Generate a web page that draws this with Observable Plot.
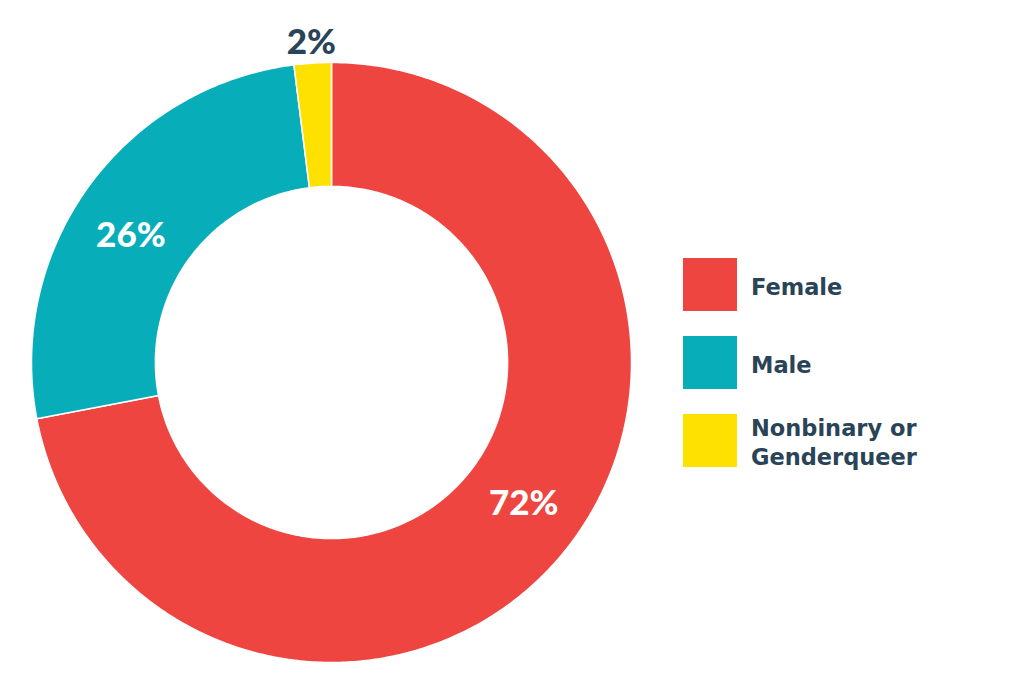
<!DOCTYPE html>
<html>
<head>
<meta charset="utf-8">
<script src="https://cdn.jsdelivr.net/npm/d3@7"></script>
<script src="https://cdn.jsdelivr.net/npm/@observablehq/plot@0.6"></script>
<style>
  html, body { margin: 0; padding: 0; background: #fff; }
  #wrap { position: relative; width: 1024px; height: 692px; }
  #legend { position: absolute; left: 683px; top: 258px; font-family: "DejaVu Sans", sans-serif; font-weight: bold; color: #2a4457; font-size: 22.5px; }
  .item { display: flex; align-items: center; height: 53px; margin-bottom: 25px; }
  .sw { width: 54px; height: 53px; flex: none; margin-right: 14px; }
  .lab { line-height: 29px; padding-top: 5px; }
</style>
</head>
<body>
<div id="wrap"><div id="chart"></div><div id="legend"></div></div>
<script>
const categories = ["Female", "Male", "Nonbinary or Genderqueer"];
const values = [72, 26, 2];
const labels = ["72%", "26%", "2%"];
const colors = ["#ef4540", "#07aeb9", "#ffe100"];

const innerR = 0.587, outerR = 1;
const total = d3.sum(values);
const poly = [];
const textData = [];
let cum = 0;
categories.forEach((c, i) => {
  const a0 = cum / total * 2 * Math.PI;
  cum += values[i];
  const a1 = cum / total * 2 * Math.PI;
  const n = Math.max(4, Math.ceil((a1 - a0) / 0.01));
  const pts = [];
  for (let k = 0; k <= n; k++) { const a = a0 + (a1 - a0) * k / n; pts.push([outerR * Math.sin(a), outerR * Math.cos(a)]); }
  for (let k = n; k >= 0; k--) { const a = a0 + (a1 - a0) * k / n; pts.push([innerR * Math.sin(a), innerR * Math.cos(a)]); }
  pts.push(pts[0]);
  pts.forEach(([x, y]) => poly.push({cat: c, x, y}));
  const am = (a0 + a1) / 2 - 0.06;
  const outside = values[i] < 5;
  const r = outside ? 1.07 : (innerR + outerR) / 2;
  const aa = outside ? (a0 + a1) / 2 : am;
  textData.push({x: r * Math.sin(aa), y: r * Math.cos(aa), label: labels[i], outside});
});

const chart = Plot.plot({
  width: 1024,
  height: 692,
  marginLeft: 31,
  marginRight: 393,
  marginTop: 62,
  marginBottom: 30,
  x: {domain: [-1, 1], axis: null},
  y: {domain: [-1, 1], axis: null},
  color: {domain: categories, range: colors},
  style: {background: "#fff"},
  marks: [
    Plot.line(poly, {x: "x", y: "y", z: "cat", fill: "cat", stroke: "white", strokeWidth: 1.5, curve: "linear"}),
    Plot.text(textData, {x: "x", y: "y", text: "label", fill: d => d.outside ? "#2a4457" : "white",
      fontSize: 35, fontWeight: 900, fontFamily: "Lato, sans-serif", dy: 1})
  ]
});
document.getElementById("chart").appendChild(chart);

const legend = document.getElementById("legend");
categories.forEach((c, i) => {
  const item = document.createElement("div");
  item.className = "item";
  const sw = document.createElement("div");
  sw.className = "sw";
  sw.style.background = colors[i];
  const lab = document.createElement("div");
  lab.className = "lab";
  lab.innerHTML = c === "Nonbinary or Genderqueer" ? "Nonbinary or<br>Genderqueer" : c;
  item.appendChild(sw); item.appendChild(lab);
  legend.appendChild(item);
});
</script>
</body>
</html>
